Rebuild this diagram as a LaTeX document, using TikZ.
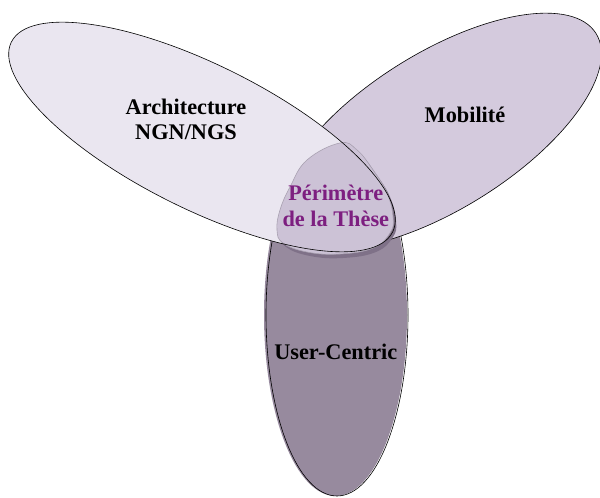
\documentclass[tikz,border=0pt]{standalone}
\usepackage{fontspec}
\setmainfont{Liberation Serif}
\definecolor{archfill}{HTML}{EAE6F0}
\definecolor{mobfill}{HTML}{D4CADD}
\definecolor{ucfill}{HTML}{978A9E}
\definecolor{perfill}{HTML}{CCC2D6}
\definecolor{pershade}{HTML}{7F7188}
\definecolor{perline}{HTML}{A9A1B1}
\definecolor{pertext}{HTML}{7D1F80}

\begin{document}
\begin{tikzpicture}[x=1pt,y=1pt,line width=0.6pt,
    lbl/.style={font=\bfseries\fontsize{22.3}{25.3}\selectfont,inner sep=0pt,align=center}]
    \useasboundingbox (0,0) rectangle (600,498);
    % User-Centric
    \fill[ucfill] (335.5,183) ellipse (71.5pt and 181pt);
    \draw (337,183) ellipse (71pt and 181pt);
    % Mobilite
    \fill[mobfill,rotate around={32:(440,367)}] (440,367) ellipse (184pt and 78pt);
    \draw[rotate around={32:(440,367)}] (440,367) ellipse (184pt and 78pt);
    % Architecture
    \fill[archfill,rotate around={-26.5:(202,361)}] (202,361) ellipse (213pt and 72pt);
    % perimetre
    \fill[pershade,shift={(3,-4)}] plot[smooth cycle,tension=0.7] coordinates {(340,355) (357,348) (373,328) (387,305) (393,281) (390,265) (373,250) (340,244) (307,246) (283,255) (277,268) (280,288) (290,311) (307,338)};
    \filldraw[fill=perfill,draw=perline] plot[smooth cycle,tension=0.7] coordinates {(340,355) (357,348) (373,328) (387,305) (393,281) (390,265) (373,250) (340,244) (307,246) (283,255) (277,268) (280,288) (290,311) (307,338)};
    \draw[rotate around={-26.5:(202,361)}] (202,361) ellipse (213pt and 72pt);

    \node[lbl] (ARCH) at (186,378.5) {Architecture\\NGN/NGS};
    \node[lbl,anchor=base] (MOB) at (465,375.3) {Mobilité};
    \node[lbl,text=pertext] (PER) at (335.8,292.2) {Périmètre\\de la Thèse};
    \node[lbl,anchor=base] (UC) at (335.8,138.7) {User-Centric};
\end{tikzpicture}
\end{document}
